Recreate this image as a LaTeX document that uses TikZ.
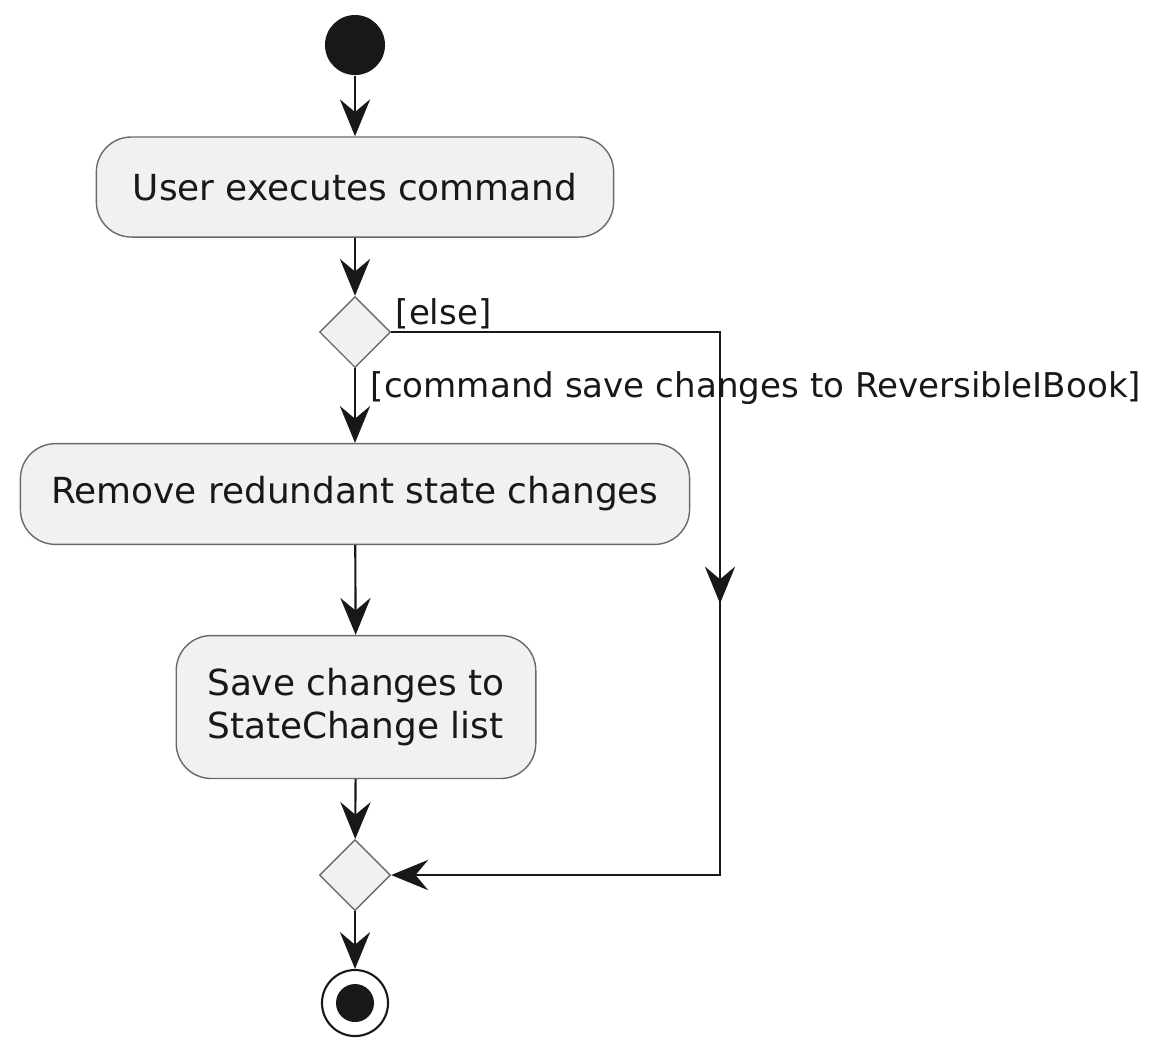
\documentclass[tikz,border=0pt]{standalone}
\usepackage{fontspec}
\setmainfont{DejaVu Sans}
\usepackage{xcolor}
\usepackage{tikz}
\usetikzlibrary{arrows.meta,shapes.geometric,decorations.markings}

\definecolor{actfill}{HTML}{F1F1F1}
\definecolor{actline}{HTML}{6A6A6A}
\definecolor{flowline}{HTML}{181818}

\tikzset{
	action/.style={draw=actline, fill=actfill, line width=.4pt, rounded corners=.35cm,
		inner xsep=.31cm, inner ysep=.33cm, minimum height=1cm, align=left,
		font=\fontsize{10.2}{12}\selectfont, text=flowline},
	branch/.style={diamond, draw=actline, fill=actfill, line width=.4pt,
		minimum width=.71cm, minimum height=.71cm, inner sep=0pt},
	guard/.style={font=\fontsize{9.7}{11}\selectfont, text=flowline, inner sep=0pt},
	flowtip/.tip={Stealth[length=10.5pt, width=8.6pt, inset=3.6pt]},
	flow/.style={draw=flowline, line width=.6pt, -{flowtip}},
	midtip/.style={postaction={decorate}, decoration={markings,
		mark=at position .5 with {\arrow{flowtip}}}},
}

\begin{document}
\begin{tikzpicture}[x=.01cm, y=-.01cm]
		\useasboundingbox (0,0) rectangle (1161,1050);
		% start and stop
		\node[circle, fill=flowline, minimum size=.6cm, inner sep=0pt] (start) at (355,45) {};
		\node[circle, draw=flowline, line width=.6pt, minimum size=.66cm, inner sep=0pt] (stop) at (355,1003) {};
		\fill[flowline] (stop.center) circle (.19cm);
		% actions
		\node[action, minimum width=5.17cm] (cmd) at (355,187) {User executes command};
		\node[branch] (chk) at (355,332) {};
		\node[action] (remove) at (355,494) {Remove redundant state changes};
		\node[action] (save) at (356,707) {Save changes to\\StateChange list};
		\node[branch] (merge) at (355,875) {};
		\coordinate (elsecorner) at (720,332);
		% guards
		\node[guard, anchor=west] (elselbl) at (395,314) {[else]};
		\node[guard, anchor=west] (cmdlbl) at (370,388) {[command save changes to ReversibleIBook]};
		% flow
		\draw[flow] (start) -- (cmd);
		\draw[flow] (cmd) -- (chk);
		\draw[flow] (chk) -- (remove);
		\draw[flow] (remove) -- (save);
		\draw[flow] (save) -- (merge);
		\draw[flow] (merge) -- (stop);
		\draw[flow, midtip] (chk.east) -- (elsecorner) |- (merge.east);
	\end{tikzpicture}
\end{document}
